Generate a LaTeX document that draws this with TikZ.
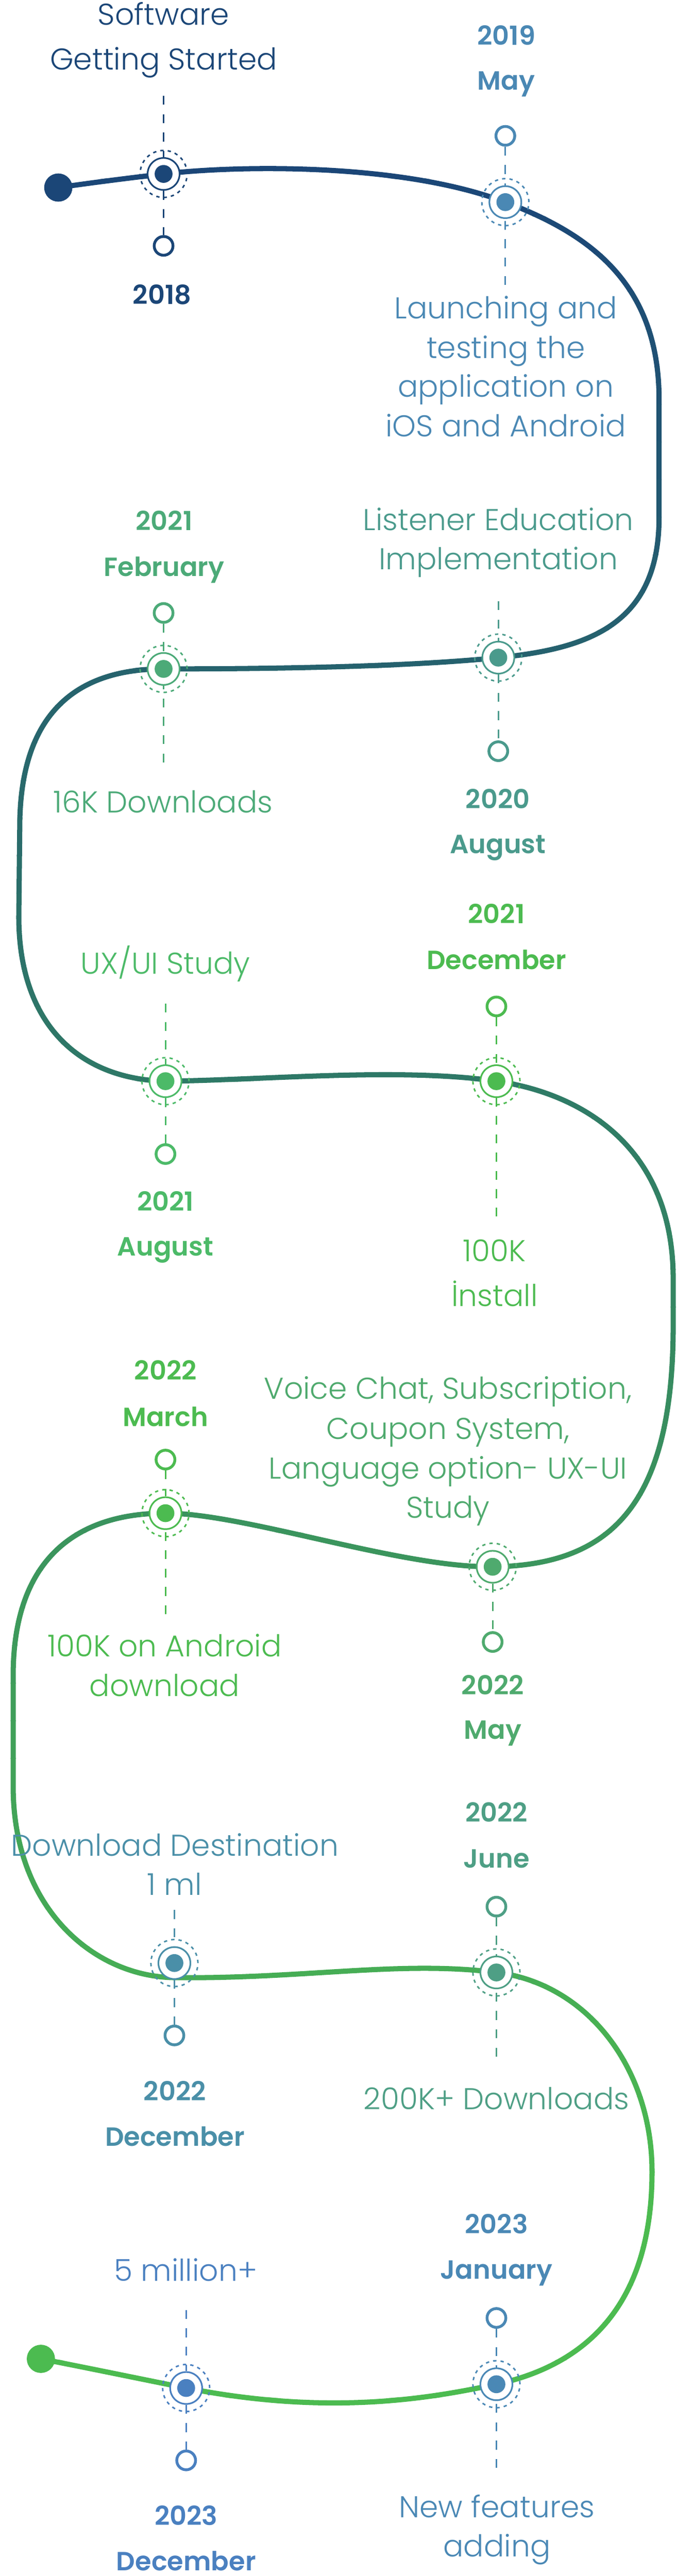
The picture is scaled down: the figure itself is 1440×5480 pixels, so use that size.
\documentclass[tikz,border=0pt]{standalone}
\usepackage{fontspec}
\IfFontExistsTF{Poppins Light}{\newfontfamily\bodyfont{Poppins Light}}{\newfontfamily\bodyfont{Poppins}}
\IfFontExistsTF{Poppins SemiBold}{\newfontfamily\datefont{Poppins SemiBold}}{\newfontfamily\datefontreg{Poppins}\newcommand\datefont{\datefontreg\bfseries}}
\definecolor{lnA}{HTML}{1B4677}
\definecolor{lnB}{HTML}{2F7A66}
\definecolor{lnC}{HTML}{4CBB50}
\definecolor{c1}{HTML}{1B4677}
\definecolor{c2}{HTML}{4A88B4}
\definecolor{c3}{HTML}{4A9A8C}
\definecolor{c4}{HTML}{4CAA78}
\definecolor{c5}{HTML}{4CBA68}
\definecolor{c6}{HTML}{4CBB50}
\definecolor{c7}{HTML}{4FAA6E}
\definecolor{c8}{HTML}{4CBB50}
\definecolor{c9}{HTML}{4A8FA8}
\definecolor{c10}{HTML}{4E9F85}
\definecolor{c11}{HTML}{4A88B5}
\definecolor{c12}{HTML}{4A80C0}
\tikzset{
  lblbody/.style={font=\bodyfont\fontsize{64}{76}\selectfont, anchor=base, inner sep=0pt},
  lbldate/.style={font=\datefont\fontsize{56}{66}\selectfont, anchor=base, inner sep=0pt},
  tlcurve/.style={line width=11pt, line cap=round},
  msstem/.style={line width=3.5pt, dash pattern=on 19pt off 20pt},
  mshub/.style={circle, minimum size=68pt, inner sep=0pt, line width=3.5pt, fill=white},
  msring/.style={line width=3.2pt, dash pattern=on 7pt off 8.7pt},
  mspin/.style={circle, minimum size=40pt, inner sep=0pt, line width=6pt, fill=white},
}
\newcommand\milestone[3]{%
  \node[mshub, draw=#3] (#1) at (#2) {};
  \draw[msring, draw=#3] (#1.center) circle[radius=50pt];
  \fill[#3] (#1.center) circle[radius=19pt];
}
\newcommand\lbl[5]{\node[#1, text=#2] (#3) at (#4) {#5};}
\begin{document}
\begin{tikzpicture}[x=1pt, y=-1pt]
\fill[white] (0,0) rectangle (1440,5480);
\useasboundingbox (0,0) rectangle (1440,5480);
% centres
\coordinate (s) at (124,399);
\coordinate (e) at (87,5018);
\coordinate (p1) at (348,370);
\coordinate (p2) at (1075,430);
\coordinate (p3) at (1060,1399);
\coordinate (p4) at (348,1423);
\coordinate (p5) at (352,2300);
\coordinate (p6) at (1056,2300);
\coordinate (p7) at (1048,3333);
\coordinate (p8) at (352,3219);
\coordinate (p9) at (371,4176);
\coordinate (q9) at (371,4207);
\coordinate (p10) at (1056,4196);
\coordinate (p11) at (1056,5072);
\coordinate (p12) at (396,5080);
% the winding line
\path[save path=\curvepath] (s) .. controls (200,388) and (272,379) .. (p1)
  .. controls (500,352) and (850,345) .. (p2)
  .. controls (1250,496) and (1402,600) .. (1402,850)
  -- (1402,1100)
  .. controls (1402,1330) and (1250,1380) .. (p3)
  .. controls (870,1418) and (600,1423) .. (p4)
  .. controls (180,1423) and (42,1500) .. (42,1760)
  -- (40,1950)
  .. controls (40,2180) and (170,2296) .. (p5)
  .. controls (560,2298) and (850,2270) .. (p6)
  .. controls (1250,2328) and (1432,2450) .. (1432,2720)
  -- (1432,2820)
  .. controls (1432,3200) and (1300,3330) .. (p7)
  .. controls (850,3335) and (520,3219) .. (p8)
  .. controls (180,3219) and (30,3300) .. (28,3560)
  -- (28,3800)
  .. controls (28,4060) and (200,4205) .. (q9)
  .. controls (650,4210) and (850,4170) .. (p10)
  .. controls (1250,4220) and (1387,4400) .. (1387,4620)
  .. controls (1387,4900) and (1250,5030) .. (p11)
  .. controls (916,5102) and (700,5140) .. (p12)
  .. controls (300,5061) and (200,5040) .. (e);
\foreach \k in {0,...,61}{
  \pgfmathsetmacro\ya{300+\k*80}
  \pgfmathsetmacro\yb{\ya+81}
  \pgfmathsetmacro\ym{\ya+40}
  \pgfmathtruncatemacro\pa{max(0,min(100,(\ym-370)/19.3))}
  \pgfmathtruncatemacro\pb{max(0,min(100,(\ym-2300)/24))}
  \colorlet{bandA}{lnB!\pa!lnA}
  \colorlet{bandc}{lnC!\pb!bandA}
  \begin{scope}
    \clip (0,\ya) rectangle (1440,\yb);
    \draw[tlcurve, draw=bandc, use path=\curvepath];
  \end{scope}
}
\node[circle, fill=c1, minimum size=60pt, inner sep=0pt] (startdot) at (s) {};
\node[circle, fill=lnC, minimum size=60pt, inner sep=0pt] (enddot) at (e) {};
% milestones
\milestone{n1}{p1}{c1}
\milestone{n2}{p2}{c2}
\milestone{n3}{p3}{c3}
\milestone{n4}{p4}{c4}
\milestone{n5}{p5}{c5}
\milestone{n6}{p6}{c6}
\milestone{n7}{p7}{c7}
\milestone{n8}{p8}{c8}
\milestone{n9}{p9}{c9}
\milestone{n10}{p10}{c10}
\milestone{n11}{p11}{c11}
\milestone{n12}{p12}{c12}
% pins
\node[mspin, draw=c1] (k1) at (348,523) {};
\node[mspin, draw=c2] (k2) at (1075,289) {};
\node[mspin, draw=c3] (k3) at (1060,1598) {};
\node[mspin, draw=c4] (k4) at (348,1304) {};
\node[mspin, draw=c5] (k5) at (352,2455) {};
\node[mspin, draw=c6] (k6) at (1056,2141) {};
\node[mspin, draw=c7] (k7) at (1048,3493) {};
\node[mspin, draw=c8] (k8) at (352,3105) {};
\node[mspin, draw=c9] (k9) at (371,4330) {};
\node[mspin, draw=c10] (k10) at (1056,4056) {};
\node[mspin, draw=c11] (k11) at (1056,4931) {};
\node[mspin, draw=c12] (k12) at (396,5234) {};
% free stem ends
\coordinate (f1) at (348,204);
\coordinate (f2) at (1075,606);
\coordinate (f3) at (1060,1279);
\coordinate (f4) at (348,1622);
\coordinate (f5) at (352,2135);
\coordinate (f6) at (1056,2588);
\coordinate (f8) at (352,3434);
\coordinate (f9) at (371,4063);
\coordinate (f10) at (1056,4375);
\coordinate (f11) at (1056,5250);
\coordinate (f12) at (396,4914);
% stems
\draw[msstem, c1] (f1) -- (n1); \draw[msstem, c1] (n1) -- (k1);
\draw[msstem, c2] (k2) -- (n2); \draw[msstem, c2] (f2) -- (n2);
\draw[msstem, c3] (f3) -- (n3); \draw[msstem, c3] (n3) -- (k3);
\draw[msstem, c4] (k4) -- (n4); \draw[msstem, c4] (f4) -- (n4);
\draw[msstem, c5] (f5) -- (n5); \draw[msstem, c5] (n5) -- (k5);
\draw[msstem, c6] (k6) -- (n6); \draw[msstem, c6] (f6) -- (n6);
\draw[msstem, c7] (n7) -- (k7);
\draw[msstem, c8] (k8) -- (n8); \draw[msstem, c8] (f8) -- (n8);
\draw[msstem, c9] (f9) -- (n9); \draw[msstem, c9] (n9) -- (k9);
\draw[msstem, c10] (k10) -- (n10); \draw[msstem, c10] (f10) -- (n10);
\draw[msstem, c11] (k11) -- (n11); \draw[msstem, c11] (f11) -- (n11);
\draw[msstem, c12] (f12) -- (n12); \draw[msstem, c12] (n12) -- (k12);
% labels
\lbl{lblbody}{c1}{t1a}{348,53}{Software}
\lbl{lblbody}{c1}{t1b}{348,149}{Getting Started}
\lbl{lbldate}{c1}{d1a}{345,647}{2018}
\lbl{lbldate}{c2}{d2a}{1077,96}{2019}
\lbl{lbldate}{c2}{d2b}{1077,191}{May}
\lbl{lblbody}{c2}{t2a}{1076,678}{Launching and}
\lbl{lblbody}{c2}{t2b}{1076,762}{testing the}
\lbl{lblbody}{c2}{t2c}{1076,845}{application on}
\lbl{lblbody}{c2}{t2d}{1076,929}{iOS and Android}
\lbl{lblbody}{c3}{t3a}{1060,1128}{Listener Education}
\lbl{lblbody}{c3}{t3b}{1060,1212}{Implementation}
\lbl{lbldate}{c3}{d3a}{1059,1720}{2020}
\lbl{lbldate}{c3}{d3b}{1059,1816}{August}
\lbl{lbldate}{c4}{d4a}{349,1128}{2021}
\lbl{lbldate}{c4}{d4b}{349,1226}{February}
\lbl{lblbody}{c4}{t4a}{347,1729}{16K Downloads}
\lbl{lblbody}{c5}{t5a}{352,2072}{UX/UI Study}
\lbl{lbldate}{c5}{d5a}{352,2576}{2021}
\lbl{lbldate}{c5}{d5b}{352,2672}{August}
\lbl{lbldate}{c6}{d6a}{1056,1965}{2021}
\lbl{lbldate}{c6}{d6b}{1056,2062}{December}
\lbl{lblbody}{c6}{t6a}{1052,2684}{100K}
\lbl{lblbody}{c6}{t6b}{1052,2779}{İnstall}
\lbl{lblbody}{c7}{t7a}{953,2976}{Voice Chat, Subscription,}
\lbl{lblbody}{c7}{t7b}{953,3062}{Coupon System,}
\lbl{lblbody}{c7}{t7c}{953,3146}{Language option- UX-UI}
\lbl{lblbody}{c7}{t7d}{953,3229}{Study}
\lbl{lbldate}{c7}{d7a}{1048,3605}{2022}
\lbl{lbldate}{c7}{d7b}{1048,3700}{May}
\lbl{lbldate}{c8}{d8a}{352,2936}{2022}
\lbl{lbldate}{c8}{d8b}{352,3034}{March}
\lbl{lblbody}{c8}{t8a}{350,3524}{100K on Android}
\lbl{lblbody}{c8}{t8b}{350,3608}{download}
\lbl{lblbody}{c9}{t9a}{372,3948}{Download Destination}
\lbl{lblbody}{c9}{t9b}{371,4032}{1 ml}
\lbl{lbldate}{c9}{d9a}{372,4469}{2022}
\lbl{lbldate}{c9}{d9b}{372,4565}{December}
\lbl{lbldate}{c10}{d10a}{1056,3876}{2022}
\lbl{lbldate}{c10}{d10b}{1056,3973}{June}
\lbl{lblbody}{c10}{t10a}{1056,4488}{200K+ Downloads}
\lbl{lbldate}{c11}{d11a}{1056,4752}{2023}
\lbl{lbldate}{c11}{d11b}{1056,4848}{January}
\lbl{lblbody}{c11}{t11a}{1057,5356}{New features}
\lbl{lblbody}{c11}{t11b}{1057,5439}{adding}
\lbl{lblbody}{c12}{t12a}{395,4853}{5 million+}
\lbl{lbldate}{c12}{d12a}{396,5372}{2023}
\lbl{lbldate}{c12}{d12b}{396,5468}{December}
\end{tikzpicture}
\end{document}
